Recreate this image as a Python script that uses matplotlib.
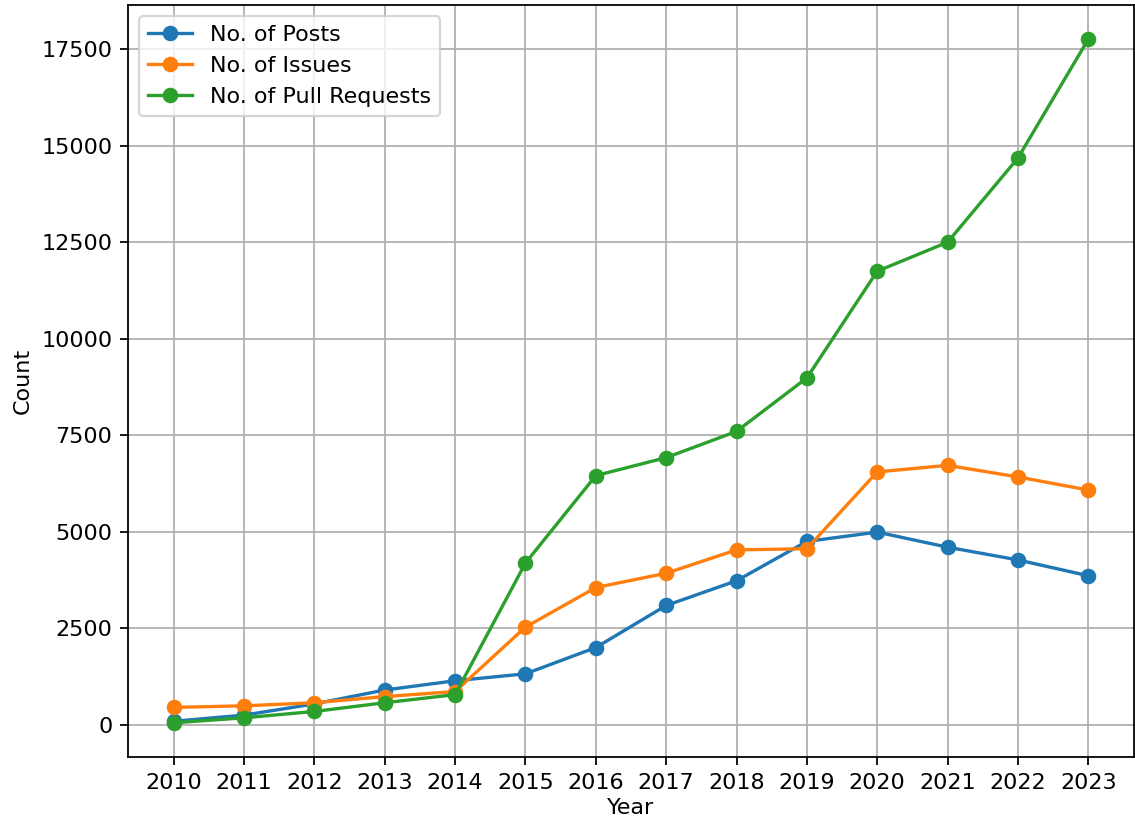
import numpy as np
import matplotlib
matplotlib.use("Agg")
import matplotlib.pyplot as plt

years = [2010, 2011, 2012, 2013, 2014, 2015, 2016, 2017, 2018, 2019, 2020, 2021, 2022, 2023]
posts = [90, 250, 540, 900, 1140, 1320, 2000, 3090, 3730, 4750, 4990, 4600, 4270, 3860]
issues = [450, 490, 570, 730, 860, 2530, 3555, 3925, 4530, 4560, 6550, 6720, 6420, 6080]
pull_requests = [50, 180, 345, 570, 780, 4190, 6455, 6920, 7600, 8985, 11750, 12500, 14680, 17760]

DPI = 160
fig = plt.figure(figsize=(1135 / DPI, 825 / DPI), dpi=DPI)
ax = fig.add_axes([128 / 1135, 68 / 825, (1134 - 128) / 1135, (757 - 5) / 825])

ax.plot(years, posts, marker='o', label='No. of Posts')
ax.plot(years, issues, marker='o', label='No. of Issues')
ax.plot(years, pull_requests, marker='o', label='No. of Pull Requests')

ax.set_xticks(years)
ax.set_xlabel('Year', labelpad=2.5)
ax.set_ylabel('Count')
ax.legend(loc='upper left')
ax.grid(True)

fig.savefig("out.png", dpi=DPI)
